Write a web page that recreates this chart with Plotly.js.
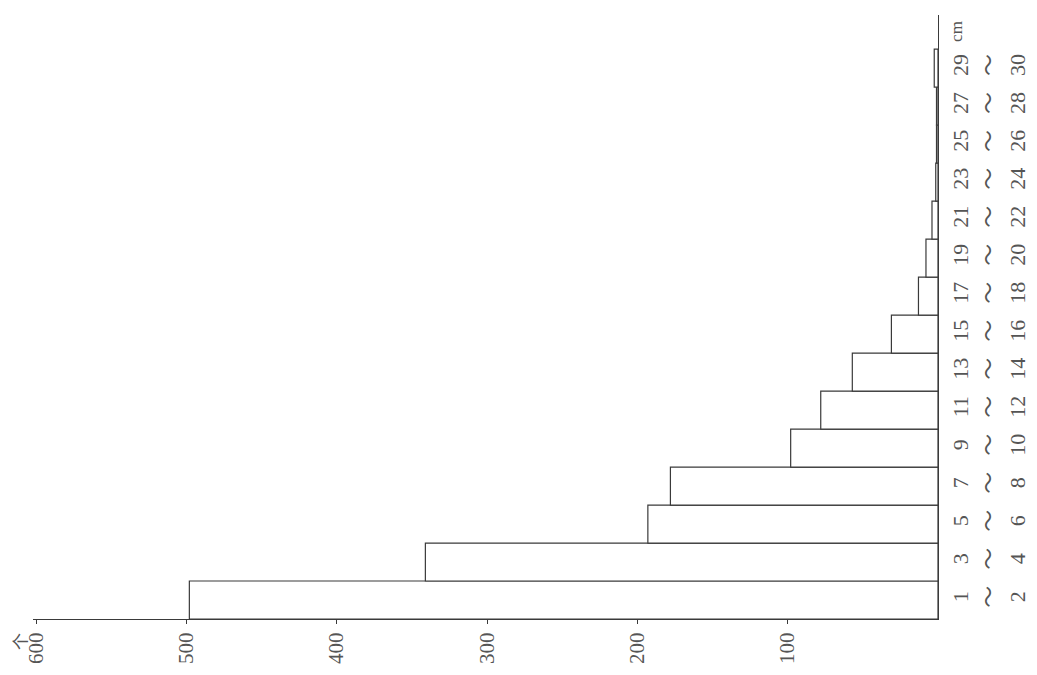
<!DOCTYPE html>
<html>
<head>
<meta charset="utf-8">
<script src="https://cdn.plot.ly/plotly-3.0.1.min.js"></script>
<style>html,body{margin:0;padding:0;background:#fff;}#chart{width:1037px;height:675px;}</style>
</head>
<body>
<div id="chart"></div>
<script>
const categories = ["1~2","3~4","5~6","7~8","9~10","11~12","13~14","15~16","17~18","19~20","21~22","23~24","25~26","27~28","29~30"];
const tickLabels = ["1<br>～<br>2","3<br>～<br>4","5<br>～<br>6","7<br>～<br>8","9<br>～<br>10","11<br>～<br>12","13<br>～<br>14","15<br>～<br>16","17<br>～<br>18","19<br>～<br>20","21<br>～<br>22","23<br>～<br>24","25<br>～<br>26","27<br>～<br>28","29<br>～<br>30"];
const counts = [498, 341, 193, 178, 98, 78, 57, 31, 13, 8, 4, 1.5, 1, 1, 2.5];
const valueTicks = [100, 200, 300, 400, 500, 600];
const unitLength = "cm";
const unitCount = "个";

const lineCol = "#3a3a3a";
const textCol = "#555";

const trace = {
  type: "bar",
  orientation: "h",
  x: counts,
  y: categories,
  marker: {color: "#ffffff", line: {color: lineCol, width: 1.2}},
  hoverinfo: "x+y"
};

const layout = {
  width: 1037, height: 675,
  margin: {l: 33, r: 99, t: 15, b: 56},
  paper_bgcolor: "#fff", plot_bgcolor: "#fff",
  bargap: 0,
  showlegend: false,
  font: {family: "Liberation Serif, serif", color: textCol, size: 21},
  xaxis: {
    range: [602, 0],
    tickvals: valueTicks,
    ticktext: valueTicks.map(String),
    tickangle: -90,
    ticks: "outside", ticklen: 4, tickcolor: lineCol,
    showgrid: false, zeroline: false,
    showline: true, linecolor: lineCol, linewidth: 1.2,
    tickfont: {size: 21, color: textCol, family: "Liberation Serif, serif"}
  },
  yaxis: {
    type: "category",
    side: "right",
    range: [-0.5, 15.4],
    tickvals: categories,
    ticktext: tickLabels,
    tickangle: -90,
    ticks: "", showgrid: false, zeroline: false,
    showline: true, linecolor: lineCol, linewidth: 1.2,
    ticklabelstandoff: 2,
    tickfont: {size: 22, color: textCol, family: "Liberation Serif, Noto Sans CJK SC, serif"}
  },
  annotations: [
    {text: unitLength, xref: "paper", yref: "paper", x: 1.021, y: 0.972, xanchor: "center", yanchor: "middle",
     showarrow: false, textangle: -90,
     font: {size: 17, color: textCol, family: "Liberation Serif, serif"}},
    {text: unitCount, xref: "paper", yref: "paper", x: -0.0144, y: -0.0364, xanchor: "center", yanchor: "middle",
     showarrow: false, textangle: -90,
     font: {size: 17, color: textCol, family: "Noto Sans CJK SC"}}
  ]
};

Plotly.newPlot("chart", [trace], layout, {displayModeBar: false, staticPlot: true});
</script>
</body>
</html>
